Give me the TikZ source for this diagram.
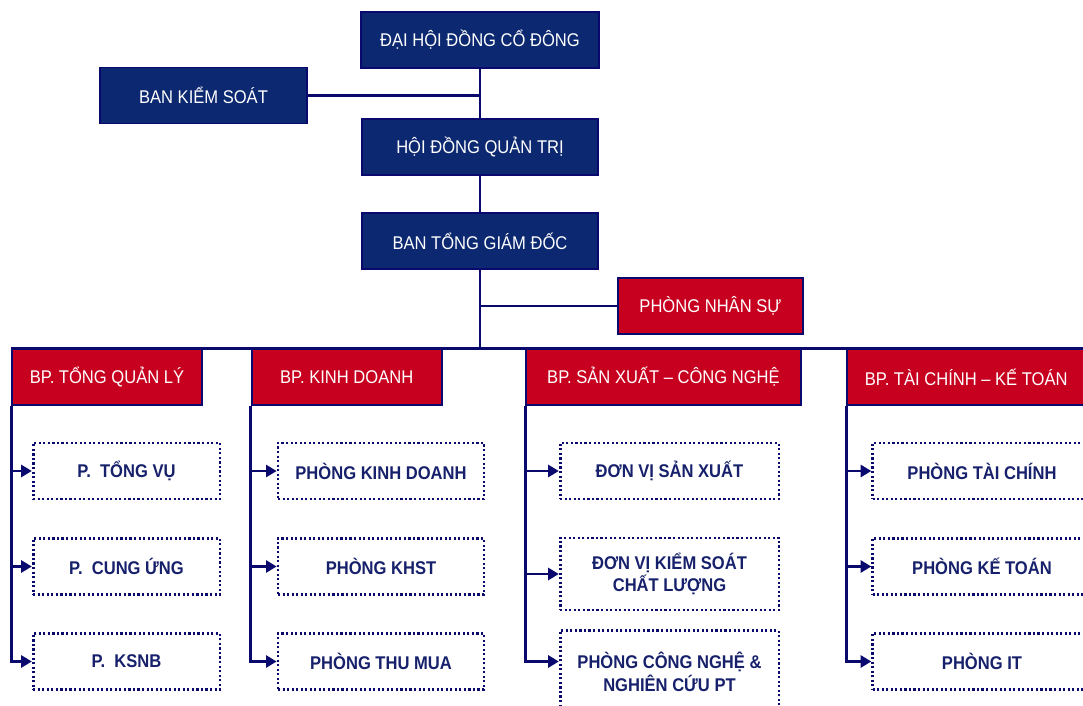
\documentclass[tikz,border=0pt]{standalone}
\usepackage{fontspec}
\setmainfont{Liberation Sans}[FakeStretch=0.9]
\usetikzlibrary{positioning,arrows.meta,calc}
\definecolor{boardnavy}{HTML}{0B2870}
\definecolor{linenavy}{HTML}{0A0A6E}
\definecolor{deptred}{HTML}{C8001F}
\definecolor{unittext}{HTML}{16206B}

\begin{document}
\begin{tikzpicture}[
  x=0.75pt, y=-0.75pt,
  font=\fontsize{13.8pt}{16pt}\selectfont,
  box/.style={draw=linenavy, line width=1.3pt, text=white, align=center,
              inner sep=2pt, minimum height=42pt},
  boardbox/.style={box, fill=boardnavy},
  deptbox/.style={box, fill=deptred},
  unitbox/.style={draw=linenavy, line width=2pt, dash pattern=on 1.6pt off 1.8pt,
                  text=unittext, align=center, inner sep=2pt, minimum height=42pt,
                  font=\fontsize{13.8pt}{17pt}\selectfont\bfseries},
  link/.style={draw=linenavy, line width=2.2pt},
  arr/.style={link, -{Triangle[length=8pt, width=9pt]}},
]
\useasboundingbox (0,0) rectangle (1083,706);

% ─── governance (top) ──────────────────────────────────────────────────────
\node[boardbox, minimum width=178.5pt] (dhd) at (480,40) {ĐẠI HỘI ĐỒNG CỔ ĐÔNG};
\node[boardbox, minimum width=155pt] (bks) at (203.5,95.5) {BAN KIỂM SOÁT};
\node[boardbox, minimum width=177pt] (hdqt) at (480,147) {HỘI ĐỒNG QUẢN TRỊ};
\node[boardbox, minimum width=177pt] (btgd) at (480,241) {BAN TỔNG GIÁM ĐỐC};
\node[deptbox, minimum width=139pt] (pns) at (710.5,306) {PHÒNG NHÂN SỰ};

\draw[link] (dhd) -- (hdqt);
\draw[link] (hdqt) -- (btgd);
\draw[link] (bks.east) -- (bks.east -| dhd.south);
\draw[link] (pns.west) -- (pns.west -| btgd.south);

% ─── departments ───────────────────────────────────────────────────────────
\node[deptbox, minimum width=142.5pt] (hql) at (107,377) {BP. TỔNG QUẢN LÝ};
\node[deptbox, minimum width=142.5pt, right=36pt of hql] (hkd) {BP. KINH DOANH};
\node[deptbox, minimum width=206pt, right=62pt of hkd] (hsx) {BP. SẢN XUẤT – CÔNG NGHỆ};
\node[deptbox, minimum width=178.5pt, right=33.5pt of hsx] (htc) {BP. TÀI CHÍNH – KẾ TOÁN};

\draw[link] (btgd.south) -- (btgd.south |- hql.north);
\draw[link] (hql.north west) -- (htc.north east);

% ─── units (dotted) ────────────────────────────────────────────────────────
\node[unitbox, minimum width=140pt] (ql1) at (126.5,471) {P.\ \ TỔNG VỤ};
\node[unitbox, minimum width=140pt] (ql2) at (126.5,566.5) {P.\ \ CUNG ỨNG};
\node[unitbox, minimum width=140pt] (ql3) at (126.5,661.5) {P.\ \ KSNB};

\node[unitbox, minimum width=154.5pt] (kd1) at (381,471) {PHÒNG KINH DOANH};
\node[unitbox, minimum width=154.5pt] (kd2) at (381,566.5) {PHÒNG KHST};
\node[unitbox, minimum width=154.5pt] (kd3) at (381,661.5) {PHÒNG THU MUA};

\node[unitbox, minimum width=164pt] (sx1) at (669.5,471) {ĐƠN VỊ SẢN XUẤT};
\node[unitbox, minimum width=164pt, minimum height=54pt] (sx2) at (669.5,574)
  {ĐƠN VỊ KIỂM SOÁT\\CHẤT LƯỢNG};
\node[unitbox, minimum width=164pt, minimum height=62pt] (sx3) at (669.5,672)
  {PHÒNG CÔNG NGHỆ \&\\NGHIÊN CỨU PT};

\node[unitbox, minimum width=164pt] (tc1) at (982,471) {PHÒNG TÀI CHÍNH};
\node[unitbox, minimum width=164pt] (tc2) at (982,566.5) {PHÒNG KẾ TOÁN};
\node[unitbox, minimum width=164pt] (tc3) at (982,661.5) {PHÒNG IT};

\foreach \dep/\u in {hql/ql, hkd/kd, hsx/sx, htc/tc} {
  \draw[arr] (\dep.south west) |- (\u1.west);
  \draw[arr] (\dep.west |- \u2.west) -- (\u2.west);
  \draw[arr] (\dep.south west) |- (\u3.west |- ql3.west);
}

\end{tikzpicture}
\end{document}
